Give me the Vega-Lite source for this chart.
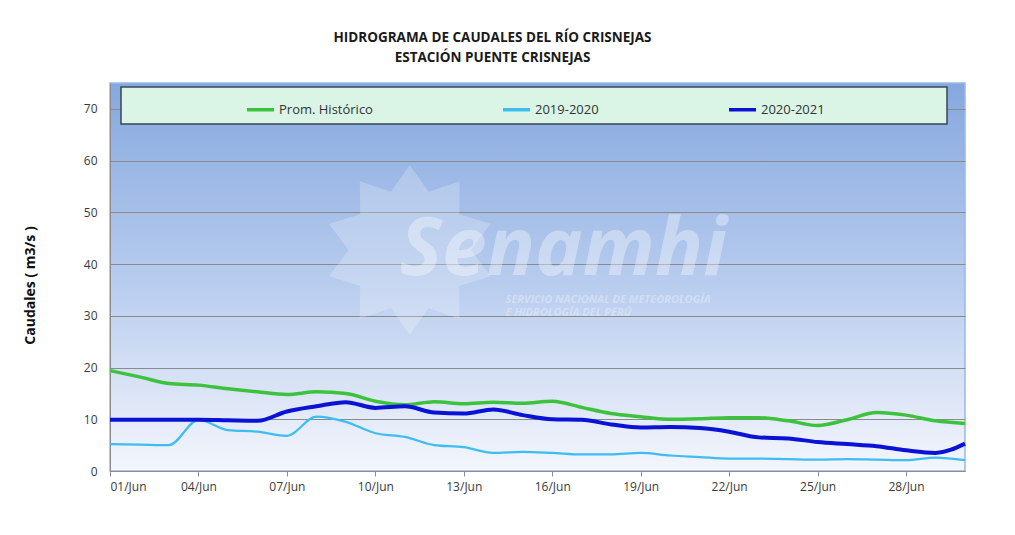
{
  "$schema": "https://vega.github.io/schema/vega-lite/v6.json",
  "width": 855,
  "height": 388,
  "autosize": {"type": "none"},
  "padding": {"left": 110, "top": 83, "right": 50, "bottom": 64},
  "background": "white",
  "title": {
    "text": ["HIDROGRAMA DE CAUDALES DEL RÍO CRISNEJAS", "ESTACIÓN PUENTE CRISNEJAS"],
    "font": "Open Sans",
    "fontSize": 13.5,
    "fontWeight": "bold",
    "color": "#1a1a1a",
    "anchor": "middle",
    "dx": -45,
    "lineHeight": 20,
    "offset": 19
  },
  "datasets": {
    "flows": [
      {"d": "2021-06-01T00:00:00", "s": "Prom. Histórico", "v": 19.4},
      {"d": "2021-06-02T00:00:00", "s": "Prom. Histórico", "v": 18.2},
      {"d": "2021-06-03T00:00:00", "s": "Prom. Histórico", "v": 16.9},
      {"d": "2021-06-04T00:00:00", "s": "Prom. Histórico", "v": 16.6},
      {"d": "2021-06-05T00:00:00", "s": "Prom. Histórico", "v": 15.9},
      {"d": "2021-06-06T00:00:00", "s": "Prom. Histórico", "v": 15.3},
      {"d": "2021-06-07T00:00:00", "s": "Prom. Histórico", "v": 14.8},
      {"d": "2021-06-08T00:00:00", "s": "Prom. Histórico", "v": 15.3},
      {"d": "2021-06-09T00:00:00", "s": "Prom. Histórico", "v": 15.0},
      {"d": "2021-06-10T00:00:00", "s": "Prom. Histórico", "v": 13.5},
      {"d": "2021-06-11T00:00:00", "s": "Prom. Histórico", "v": 12.8},
      {"d": "2021-06-12T00:00:00", "s": "Prom. Histórico", "v": 13.4},
      {"d": "2021-06-13T00:00:00", "s": "Prom. Histórico", "v": 13.0},
      {"d": "2021-06-14T00:00:00", "s": "Prom. Histórico", "v": 13.3},
      {"d": "2021-06-15T00:00:00", "s": "Prom. Histórico", "v": 13.1},
      {"d": "2021-06-16T00:00:00", "s": "Prom. Histórico", "v": 13.5},
      {"d": "2021-06-17T00:00:00", "s": "Prom. Histórico", "v": 12.3},
      {"d": "2021-06-18T00:00:00", "s": "Prom. Histórico", "v": 11.1},
      {"d": "2021-06-19T00:00:00", "s": "Prom. Histórico", "v": 10.5},
      {"d": "2021-06-20T00:00:00", "s": "Prom. Histórico", "v": 10.0},
      {"d": "2021-06-21T00:00:00", "s": "Prom. Histórico", "v": 10.1},
      {"d": "2021-06-22T00:00:00", "s": "Prom. Histórico", "v": 10.3},
      {"d": "2021-06-23T00:00:00", "s": "Prom. Histórico", "v": 10.3},
      {"d": "2021-06-24T00:00:00", "s": "Prom. Histórico", "v": 9.7},
      {"d": "2021-06-25T00:00:00", "s": "Prom. Histórico", "v": 8.8},
      {"d": "2021-06-26T00:00:00", "s": "Prom. Histórico", "v": 9.9},
      {"d": "2021-06-27T00:00:00", "s": "Prom. Histórico", "v": 11.3},
      {"d": "2021-06-28T00:00:00", "s": "Prom. Histórico", "v": 10.8},
      {"d": "2021-06-29T00:00:00", "s": "Prom. Histórico", "v": 9.7},
      {"d": "2021-06-30T00:00:00", "s": "Prom. Histórico", "v": 9.2},
      {"d": "2021-06-01T00:00:00", "s": "2019-2020", "v": 5.2},
      {"d": "2021-06-02T00:00:00", "s": "2019-2020", "v": 5.1},
      {"d": "2021-06-03T00:00:00", "s": "2019-2020", "v": 5.0},
      {"d": "2021-06-04T00:00:00", "s": "2019-2020", "v": 9.9},
      {"d": "2021-06-05T00:00:00", "s": "2019-2020", "v": 7.9},
      {"d": "2021-06-06T00:00:00", "s": "2019-2020", "v": 7.6},
      {"d": "2021-06-07T00:00:00", "s": "2019-2020", "v": 6.8},
      {"d": "2021-06-08T00:00:00", "s": "2019-2020", "v": 10.5},
      {"d": "2021-06-09T00:00:00", "s": "2019-2020", "v": 9.5},
      {"d": "2021-06-10T00:00:00", "s": "2019-2020", "v": 7.3},
      {"d": "2021-06-11T00:00:00", "s": "2019-2020", "v": 6.6},
      {"d": "2021-06-12T00:00:00", "s": "2019-2020", "v": 5.0},
      {"d": "2021-06-13T00:00:00", "s": "2019-2020", "v": 4.6},
      {"d": "2021-06-14T00:00:00", "s": "2019-2020", "v": 3.5},
      {"d": "2021-06-15T00:00:00", "s": "2019-2020", "v": 3.7},
      {"d": "2021-06-16T00:00:00", "s": "2019-2020", "v": 3.5},
      {"d": "2021-06-17T00:00:00", "s": "2019-2020", "v": 3.2},
      {"d": "2021-06-18T00:00:00", "s": "2019-2020", "v": 3.2},
      {"d": "2021-06-19T00:00:00", "s": "2019-2020", "v": 3.5},
      {"d": "2021-06-20T00:00:00", "s": "2019-2020", "v": 3.0},
      {"d": "2021-06-21T00:00:00", "s": "2019-2020", "v": 2.7},
      {"d": "2021-06-22T00:00:00", "s": "2019-2020", "v": 2.4},
      {"d": "2021-06-23T00:00:00", "s": "2019-2020", "v": 2.4},
      {"d": "2021-06-24T00:00:00", "s": "2019-2020", "v": 2.3},
      {"d": "2021-06-25T00:00:00", "s": "2019-2020", "v": 2.2},
      {"d": "2021-06-26T00:00:00", "s": "2019-2020", "v": 2.3},
      {"d": "2021-06-27T00:00:00", "s": "2019-2020", "v": 2.2},
      {"d": "2021-06-28T00:00:00", "s": "2019-2020", "v": 2.1},
      {"d": "2021-06-29T00:00:00", "s": "2019-2020", "v": 2.6},
      {"d": "2021-06-30T00:00:00", "s": "2019-2020", "v": 2.1},
      {"d": "2021-06-01T00:00:00", "s": "2020-2021", "v": 9.9},
      {"d": "2021-06-02T00:00:00", "s": "2020-2021", "v": 9.9},
      {"d": "2021-06-03T00:00:00", "s": "2020-2021", "v": 9.9},
      {"d": "2021-06-04T00:00:00", "s": "2020-2021", "v": 9.9},
      {"d": "2021-06-05T00:00:00", "s": "2020-2021", "v": 9.8},
      {"d": "2021-06-06T00:00:00", "s": "2020-2021", "v": 9.7},
      {"d": "2021-06-07T00:00:00", "s": "2020-2021", "v": 11.5},
      {"d": "2021-06-08T00:00:00", "s": "2020-2021", "v": 12.5},
      {"d": "2021-06-09T00:00:00", "s": "2020-2021", "v": 13.3},
      {"d": "2021-06-10T00:00:00", "s": "2020-2021", "v": 12.2},
      {"d": "2021-06-11T00:00:00", "s": "2020-2021", "v": 12.5},
      {"d": "2021-06-12T00:00:00", "s": "2020-2021", "v": 11.3},
      {"d": "2021-06-13T00:00:00", "s": "2020-2021", "v": 11.1},
      {"d": "2021-06-14T00:00:00", "s": "2020-2021", "v": 11.9},
      {"d": "2021-06-15T00:00:00", "s": "2020-2021", "v": 10.8},
      {"d": "2021-06-16T00:00:00", "s": "2020-2021", "v": 10.0},
      {"d": "2021-06-17T00:00:00", "s": "2020-2021", "v": 9.9},
      {"d": "2021-06-18T00:00:00", "s": "2020-2021", "v": 9.0},
      {"d": "2021-06-19T00:00:00", "s": "2020-2021", "v": 8.4},
      {"d": "2021-06-20T00:00:00", "s": "2020-2021", "v": 8.5},
      {"d": "2021-06-21T00:00:00", "s": "2020-2021", "v": 8.3},
      {"d": "2021-06-22T00:00:00", "s": "2020-2021", "v": 7.6},
      {"d": "2021-06-23T00:00:00", "s": "2020-2021", "v": 6.5},
      {"d": "2021-06-24T00:00:00", "s": "2020-2021", "v": 6.3},
      {"d": "2021-06-25T00:00:00", "s": "2020-2021", "v": 5.6},
      {"d": "2021-06-26T00:00:00", "s": "2020-2021", "v": 5.2},
      {"d": "2021-06-27T00:00:00", "s": "2020-2021", "v": 4.8},
      {"d": "2021-06-28T00:00:00", "s": "2020-2021", "v": 4.0},
      {"d": "2021-06-29T00:00:00", "s": "2020-2021", "v": 3.5},
      {"d": "2021-06-30T00:00:00", "s": "2020-2021", "v": 5.3}
    ],
    "one": [{}]
  },
  "layer": [
    {
      "data": {"name": "one"},
      "mark": {"type": "point", "shape": "M0,-1L0.222,-0.685L0.588,-0.809L0.582,-0.423L0.951,-0.309L0.72,0L0.951,0.309L0.582,0.423L0.588,0.809L0.222,0.685L0,1L-0.222,0.685L-0.588,0.809L-0.582,0.423L-0.951,0.309L-0.72,0L-0.951,-0.309L-0.582,-0.423L-0.588,-0.809L-0.222,-0.685Z", "size": 28900, "filled": true, "fill": "white", "fillOpacity": 0.22, "strokeWidth": 0, "opacity": 1},
      "encoding": {
        "x": {"datum": {"year": 2021, "month": "jun", "date": 11, "hours": 4}, "type": "temporal"},
        "y": {"datum": 42.7, "type": "quantitative"}
      }
    },
    {
      "data": {"name": "one"},
      "mark": {"type": "text", "text": "Senamhi", "font": "Open Sans", "fontSize": 80, "fontWeight": "bold", "fontStyle": "italic", "color": "white", "opacity": 0.35, "align": "center", "baseline": "alphabetic"},
      "encoding": {
        "x": {"datum": {"year": 2021, "month": "jun", "date": 16, "hours": 9}, "type": "temporal"},
        "y": {"datum": 37.9, "type": "quantitative"}
      }
    },
    {
      "data": {"name": "one"},
      "mark": {"type": "text", "text": ["SERVICIO NACIONAL DE METEOROLOGÍA", "E HIDROLOGÍA DEL PERÚ"], "font": "Open Sans", "fontSize": 11, "fontWeight": "bold", "fontStyle": "italic", "color": "white", "opacity": 0.3, "align": "left", "baseline": "alphabetic", "lineHeight": 13},
      "encoding": {
        "x": {"datum": {"year": 2021, "month": "jun", "date": 14, "hours": 10}, "type": "temporal"},
        "y": {"datum": 32.4, "type": "quantitative"}
      }
    },
    {
      "data": {"name": "flows"},
      "encoding": {
        "x": {
          "field": "d",
          "type": "temporal",
          "scale": {"domain": [{"year": 2021, "month": "jun", "date": 1}, {"year": 2021, "month": "jun", "date": 30}]},
          "axis": {
            "title": null,
            "format": "%d/%b",
            "values": [
              {"year": 2021, "month": "jun", "date": 1},
              {"year": 2021, "month": "jun", "date": 4},
              {"year": 2021, "month": "jun", "date": 7},
              {"year": 2021, "month": "jun", "date": 10},
              {"year": 2021, "month": "jun", "date": 13},
              {"year": 2021, "month": "jun", "date": 16},
              {"year": 2021, "month": "jun", "date": 19},
              {"year": 2021, "month": "jun", "date": 22},
              {"year": 2021, "month": "jun", "date": 25},
              {"year": 2021, "month": "jun", "date": 28}
            ],
            "grid": false,
            "ticks": true,
            "tickSize": 5,
            "tickColor": "#8c8c8c",
            "domainColor": "#8c8c8c",
            "labelPadding": 5,
            "labelFont": "Open Sans",
            "labelFontSize": 12,
            "labelColor": "#3a3a3a"
          }
        },
        "y": {
          "field": "v",
          "type": "quantitative",
          "scale": {"domain": [0, 75], "nice": false},
          "axis": {
            "title": "Caudales ( m3/s )",
            "titleFont": "Open Sans",
            "titleFontSize": 14,
            "titleFontWeight": "bold",
            "titleColor": "#111111",
            "titleX": -80,
            "titleY": 202,
            "titleAngle": -90,
            "titleAlign": "center",
            "titleBaseline": "middle",
            "values": [0, 10, 20, 30, 40, 50, 60, 70],
            "grid": true,
            "gridColor": "#8a8a8a",
            "gridWidth": 1,
            "ticks": false,
            "labelPadding": 13,
            "labelFont": "Open Sans",
            "labelFontSize": 12,
            "labelColor": "#3a3a3a",
            "domainColor": "#8c8c8c"
          }
        },
        "color": {
          "field": "s",
          "type": "nominal",
          "scale": {"domain": ["Prom. Histórico", "2019-2020", "2020-2021"], "range": ["#3dc23d", "#3dbdf0", "#0a12d6"]},
          "legend": {
            "title": " ",
            "titleOrient": "left",
            "titlePadding": 117,
            "orient": "none",
            "legendX": 11,
            "legendY": 4,
            "direction": "horizontal",
            "columns": 3,
            "columnPadding": 122,
            "fillColor": "#daf5e6",
            "strokeColor": "#3b4656",
            "padding": 7,
            "symbolType": "stroke",
            "symbolSize": 730,
            "symbolStrokeWidth": 3.5,
            "labelOffset": 3,
            "labelFont": "Open Sans",
            "labelFontSize": 13,
            "labelColor": "#333333",
            "labelLimit": 400,
            "labelExpr": "datum.label == '2020-2021' ? datum.label + '                                  \u200b' : datum.label"
          }
        }
      },
      "layer": [
        {"transform": [{"filter": "datum.s == 'Prom. Histórico'"}], "mark": {"type": "line", "interpolate": "monotone", "strokeWidth": 3.5}},
        {"transform": [{"filter": "datum.s == '2019-2020'"}], "mark": {"type": "line", "interpolate": "monotone", "strokeWidth": 2.2}},
        {"transform": [{"filter": "datum.s == '2020-2021'"}], "mark": {"type": "line", "interpolate": "monotone", "strokeWidth": 4}}
      ]
    }
  ],
  "config": {
    "view": {
      "fill": {"gradient": "linear", "x1": 0, "y1": 0, "x2": 0, "y2": 1, "stops": [{"offset": 0, "color": "#86a8de"}, {"offset": 0.5, "color": "#b6cbee"}, {"offset": 1, "color": "#f4f6fc"}]},
      "stroke": "#9ab8e4",
      "strokeWidth": 1.5
    },
    "legend": {"strokeWidth": 1.5}
  }
}
